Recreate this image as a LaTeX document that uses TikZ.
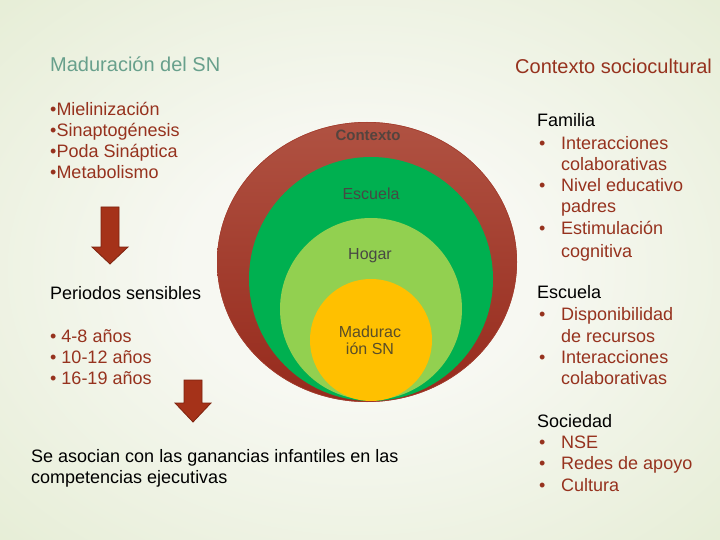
\documentclass[tikz,border=0pt]{standalone}
\usepackage{fontspec}
\setmainfont{Liberation Sans}
\definecolor{bgin}{RGB}{247,248,242}
\definecolor{bgout}{RGB}{212,226,184}
\definecolor{dred}{RGB}{150,50,30}
\definecolor{teal}{RGB}{104,160,140}
\definecolor{redtop}{RGB}{176,82,66}
\definecolor{redbot}{RGB}{150,42,28}
\definecolor{cgreen}{RGB}{0,176,80}
\definecolor{lgreen}{RGB}{146,208,80}
\definecolor{cyellow}{RGB}{255,192,0}
\definecolor{lblgray}{RGB}{72,72,68}
\definecolor{arrowfill}{RGB}{165,50,25}
\definecolor{arrowdraw}{RGB}{125,35,15}
\pgfdeclareradialshading{bgshade}{\pgfpoint{0bp}{0bp}}{color(0bp)=(bgin); color(12bp)=(bgin); color(62bp)=(bgout); color(75bp)=(bgout)}
\tikzset{
  txt/.style={anchor=base west, inner sep=0pt, font=\fontsize{18}{21}\selectfont},
  head/.style={anchor=base west, inner sep=0pt, font=\fontsize{20}{24}\selectfont},
  itm/.style={txt, text=dred},
  circlbl/.style={anchor=base, inner sep=0pt, text=lblgray, font=\fontsize{16}{19}\selectfont},
  blockarrow/.style={fill=arrowfill, draw=arrowdraw, line width=0.8pt, line join=miter}
}
\begin{document}
\begin{tikzpicture}[x=1pt,y=-1pt]
\useasboundingbox (0,0) rectangle (720,540);
\shade[shading=bgshade] (0,0) rectangle (720,540);

% concentric circles
\shade[top color=redtop, bottom color=redbot] (367,262) ellipse [x radius=150, y radius=140];
\draw[redtop!50!redbot, line width=0.6pt] (367,262) ellipse [x radius=149.7, y radius=139.7];
\fill[cgreen] (371,279) circle [radius=122];
\fill[lgreen] (371,309) circle [radius=91];
\fill[cyellow] (371,340) circle [radius=61];

\node[circlbl, font=\fontsize{15}{18}\selectfont\bfseries, text=lblgray!85!redbot] (lctx) at (368,141) {Contexto};
\node[circlbl] (lesc) at (371,200) {Escuela};
\node[circlbl] (lhog) at (370,259) {Hogar};
\node[circlbl, text={rgb,255:red,90;green,78;blue,40}] (lmad1) at (370,337) {Madurac};
\node[circlbl, text={rgb,255:red,90;green,78;blue,40}] (lmad2) at (370,354) {ión SN};

% left column
\node[head, text=teal] (madsn) at (50,72) {Maduración del SN};
\node[itm] (m1) at (50,116) {•Mielinización};
\node[itm] (m2) at (50,137) {•Sinaptogénesis};
\node[itm] (m3) at (50,158) {•Poda Sináptica};
\node[itm] (m4) at (50,179) {•Metabolismo};

\draw[blockarrow] (101,207) -- (119,207) -- (119,247) -- (128,247) -- (110,264) -- (92,247) -- (101,247) -- cycle;

\node[txt] (per) at (50,299) {Periodos sensibles};
\node[itm] (p1) at (50,342) {• 4-8 años};
\node[itm] (p2) at (50,363) {• 10-12 años};
\node[itm] (p3) at (50,384) {• 16-19 años};

\draw[blockarrow] (184,380) -- (202,380) -- (202,403) -- (211,403) -- (193,422) -- (175,403) -- (184,403) -- cycle;

\node[txt] (se1) at (31,462) {Se asocian con las ganancias infantiles en las};
\node[txt] (se2) at (31,483) {competencias ejecutivas};

% right column
\node[head, text=dred] (ctxs) at (515,74) {Contexto sociocultural};

\node[txt] (fam) at (537,127) {Familia};
\node[itm] (fb1) at (539,150) {•};
\node[itm] (f1a) at (561,150) {Interacciones};
\node[itm] (f1b) at (561,171) {colaborativas};
\node[itm] (fb2) at (539,192) {•};
\node[itm] (f2a) at (561,192) {Nivel educativo};
\node[itm] (f2b) at (561,213) {padres};
\node[itm] (fb3) at (539,235) {•};
\node[itm] (f3a) at (561,235) {Estimulación};
\node[itm] (f3b) at (561,257) {cognitiva};

\node[txt] (esc) at (537,298) {Escuela};
\node[itm] (eb1) at (539,320) {•};
\node[itm] (e1a) at (561,320) {Disponibilidad};
\node[itm] (e1b) at (561,342) {de recursos};
\node[itm] (eb2) at (539,363) {•};
\node[itm] (e2a) at (561,363) {Interacciones};
\node[itm] (e2b) at (561,384) {colaborativas};

\node[txt] (soc) at (537,427) {Sociedad};
\node[itm] (sb1) at (539,448) {•};
\node[itm] (s1) at (561,448) {NSE};
\node[itm] (sb2) at (539,469) {•};
\node[itm] (s2) at (561,469) {Redes de apoyo};
\node[itm] (sb3) at (539,491) {•};
\node[itm] (s3) at (561,491) {Cultura};
\end{tikzpicture}
\end{document}
